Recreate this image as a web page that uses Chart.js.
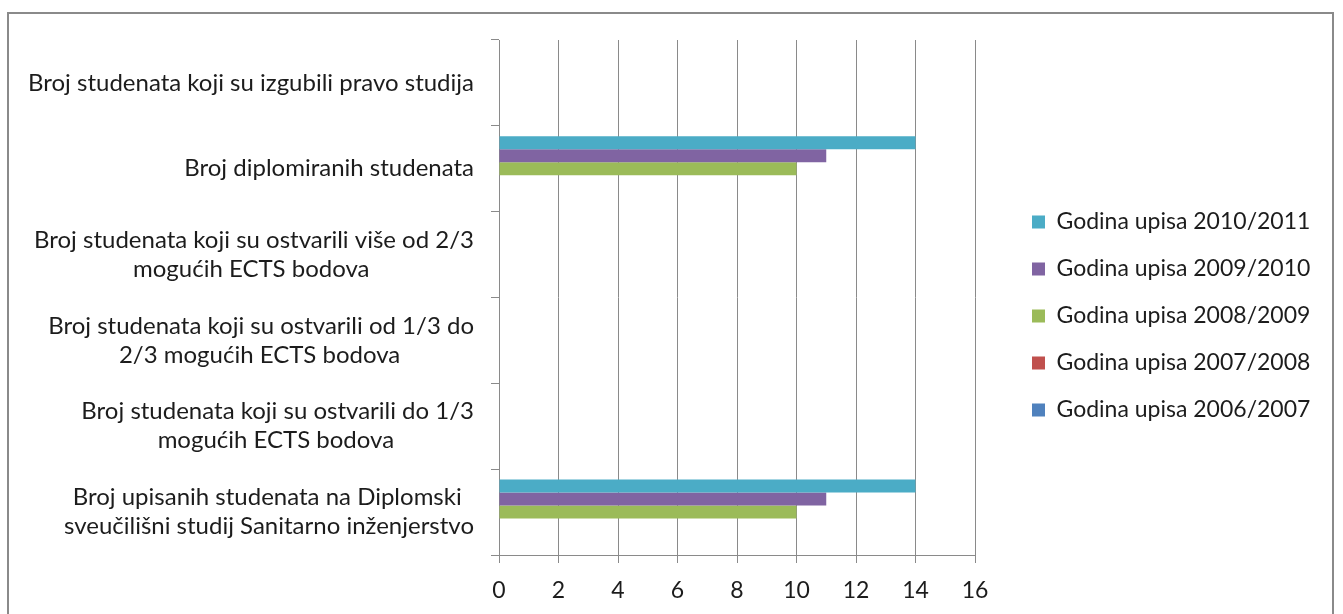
<!DOCTYPE html>
<html>
<head>
<meta charset="utf-8">
<script src="https://cdn.jsdelivr.net/npm/chart.js@4.4.1/dist/chart.umd.min.js"></script>
<style>
    html, body { margin: 0; padding: 0; background: #fff; overflow: hidden; }
    #okvir { position: absolute; left: 7px; top: 12px; width: 1323px; height: 640px; border: 2px solid #8a8a8a; }
    #okvir canvas { position: absolute; left: 0; top: 0; }
</style>
</head>
<body>
<div id="okvir"><canvas id="grafikon" width="1323" height="590"></canvas></div>
<script>
// kategorije odozgo prema dolje, kako su na slici
const kategorije = [
    ['Broj studenata koji su izgubili pravo studija'],
    ['Broj diplomiranih studenata'],
    ['Broj studenata koji su ostvarili više od 2/3', 'mogućih ECTS bodova'],
    ['Broj studenata koji su ostvarili od 1/3 do', '2/3 mogućih ECTS bodova'],
    ['Broj studenata koji su ostvarili do 1/3', 'mogućih ECTS bodova'],
    ['Broj upisanih studenata na Diplomski', 'sveučilišni studij Sanitarno inženjerstvo']
];

const nazivi = ['Godina upisa 2010/2011', 'Godina upisa 2009/2010', 'Godina upisa 2008/2009',
    'Godina upisa 2007/2008', 'Godina upisa 2006/2007'];

const upis2010 = [null, 14, null, null, null, 14];
const upis2009 = [null, 11, null, null, null, 11];
const upis2008 = [null, 10, null, null, null, 10];
const upis2007 = [null, null, null, null, null, null];
const upis2006 = [null, null, null, null, null, null];

const boje = ['#4BACC6', '#8064A2', '#9BBB59', '#C0504D', '#4F81BD'];

const FONT = 'Lato';
const VELICINA = 23;      // legenda i os x
const VELICINA_Y = 24;    // nazivi kategorija
const SIVA = '#8a8a8a';
const TEKST = '#1c1c1c';

function nacrtaj() {
    const mjera = document.createElement('canvas').getContext('2d');

    // drugi red centriran ispod prvog (kao u Excelu)
    function centrirajRedove(redovi) {
        if (redovi.length < 2) return redovi[0];
        mjera.font = VELICINA_Y + 'px ' + FONT;
        const sirine = redovi.map(r => mjera.measureText(r).width);
        const max = Math.max(...sirine);
        const razmak = mjera.measureText(' ').width;
        return redovi.map((r, i) => r + ' '.repeat(Math.round((max - sirine[i]) / 2 / razmak)));
    }

    mjera.font = VELICINA + 'px ' + FONT;
    const sirinaTeksta = Math.max(...nazivi.map(n => mjera.measureText(n).width));
    const desniRub = Math.max(0, 265.5 - sirinaTeksta);

    const podaci = [upis2010, upis2009, upis2008, upis2007, upis2006];

    const bezRuba = s => { s.paddingTop = 0; s.paddingBottom = 0; s.paddingLeft = 0; s.paddingRight = 0; };

    new Chart(document.getElementById('grafikon'), {
        type: 'bar',
        data: {
            labels: kategorije.map(k => k.join(' ')),
            datasets: nazivi.map((naziv, i) => ({
                label: naziv,
                data: podaci[i],
                backgroundColor: boje[i],
                borderWidth: 0,
                categoryPercentage: 0.76,
                barPercentage: 1.0
            }))
        },
        options: {
            indexAxis: 'y',
            responsive: false,
            animation: false,
            devicePixelRatio: 1,
            layout: { padding: { top: 26, right: desniRub, bottom: 0, left: 0 } },
            scales: {
                x: {
                    min: 0,
                    max: 16,
                    ticks: { stepSize: 2, padding: 14, color: TEKST, font: { family: FONT, size: VELICINA } },
                    grid: { color: SIVA, lineWidth: 1, tickLength: 8, tickColor: SIVA },
                    border: { color: SIVA, width: 1 },
                    afterFit: s => { s.height = 49; bezRuba(s); }
                },
                y: {
                    ticks: {
                        autoSkip: false,
                        padding: 17,
                        color: TEKST,
                        font: { family: FONT, size: VELICINA_Y, lineHeight: 29 / VELICINA_Y },
                        callback: (v, i) => centrirajRedove(kategorije[i])
                    },
                    grid: { drawOnChartArea: false, drawTicks: true, tickLength: 8, tickColor: SIVA, offset: true },
                    border: { color: SIVA, width: 1 },
                    afterFit: s => { s.width = 490; bezRuba(s); }
                },
                razmak: {
                    axis: 'y',
                    position: 'right',
                    display: true,
                    ticks: { display: false },
                    grid: { display: false },
                    border: { display: false },
                    afterFit: s => { s.width = 33; bezRuba(s); }
                }
            },
            plugins: {
                legend: {
                    position: 'right',
                    fullSize: false,
                    maxWidth: 400,
                    title: { display: true, text: ' ', padding: 11.3, font: { size: 12 } },
                    labels: {
                        boxWidth: 13,
                        boxHeight: 13,
                        padding: 24,
                        color: TEKST,
                        font: { family: FONT, size: VELICINA }
                    }
                },
                tooltip: { enabled: false }
            }
        }
    });
}

document.fonts.load(VELICINA_Y + 'px ' + FONT).then(nacrtaj, nacrtaj);
</script>
</body>
</html>
